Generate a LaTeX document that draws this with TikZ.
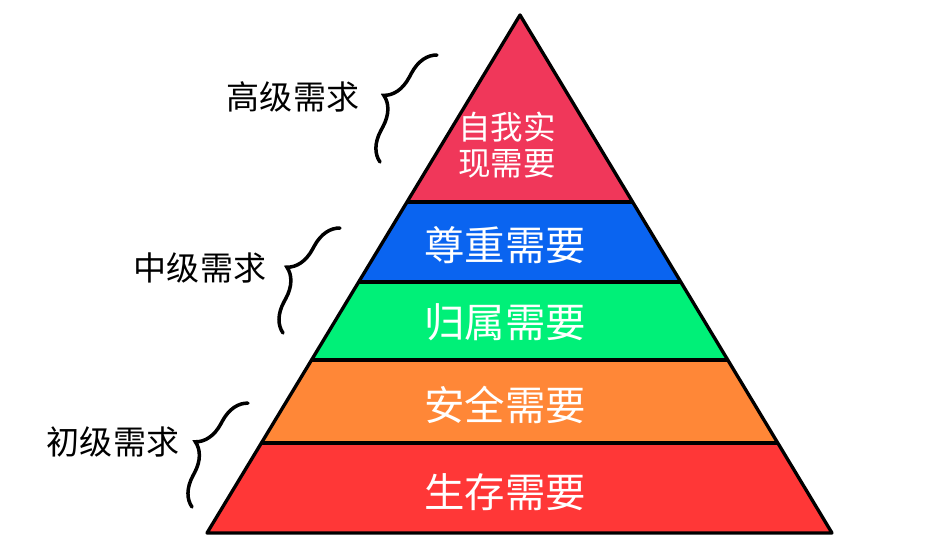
\documentclass[tikz,border=0pt]{standalone}
\usepackage{fontspec}
\newfontfamily\cjk{Noto Sans CJK SC}
\usetikzlibrary{calc,decorations.pathreplacing}

\definecolor{selfpink}{RGB}{240,55,90}
\definecolor{esteemblue}{RGB}{10,100,240}
\definecolor{belonggreen}{RGB}{0,240,120}
\definecolor{safeorange}{RGB}{255,135,55}
\definecolor{lifered}{RGB}{255,55,55}

\begin{document}
\begin{tikzpicture}[x=0.02cm,y=-0.02cm,
    layer/.style={text=white,font=\cjk\fontsize{23}{28}\selectfont},
    group/.style={text=black,font=\cjk\fontsize{18.8}{22}\selectfont},
    curly/.style={decorate,decoration={brace,amplitude=0.56cm},line width=2pt,line cap=round}]
    \useasboundingbox (0,0) rectangle (936,554);

    % Define the corners of the pyramid
    \coordinate (T) at (520,15);
    \coordinate (L) at (207,533);
    \coordinate (R) at (832,533);

    % Points where the layers meet the sides
    \coordinate (L1) at ($(T)!0.361!(L)$);
    \coordinate (R1) at ($(T)!0.361!(R)$);
    \coordinate (L2) at ($(T)!0.5154!(L)$);
    \coordinate (R2) at ($(T)!0.5154!(R)$);
    \coordinate (L3) at ($(T)!0.666!(L)$);
    \coordinate (R3) at ($(T)!0.666!(R)$);
    \coordinate (L4) at ($(T)!0.826!(L)$);
    \coordinate (R4) at ($(T)!0.826!(R)$);

    % Fill the layers
    \fill[selfpink] (T) -- (L1) -- (R1) -- cycle;
    \fill[esteemblue] (L1) -- (L2) -- (R2) -- (R1) -- cycle;
    \fill[belonggreen] (L2) -- (L3) -- (R3) -- (R2) -- cycle;
    \fill[safeorange] (L3) -- (L4) -- (R4) -- (R3) -- cycle;
    \fill[lifered] (L4) -- (L) -- (R) -- (R4) -- cycle;

    % Draw the outline and the dividing lines
    \draw[line width=1.9pt,line join=round] (T) -- (L) -- (R) -- cycle;
    \draw[line width=1.9pt] (L1) -- (R1);
    \draw[line width=1.9pt] (L2) -- (R2);
    \draw[line width=1.9pt] (L3) -- (R3);
    \draw[line width=1.9pt] (L4) -- (R4);

    % Names of the layers
    \node[layer,align=center,font=\cjk\fontsize{18.5}{20.4}\selectfont] (self) at (507,145) {自我实\\现需要};
    \node[layer] (esteem) at (505,245) {尊重需要};
    \node[layer] (belong) at (505,322) {归属需要};
    \node[layer] (safety) at (505,405) {安全需要};
    \node[layer] (life) at (505,492) {生存需要};

    % Braces beside the pyramid
    \coordinate (HB) at (380,162);
    \coordinate (HT) at (437,55);
    \coordinate (MB) at (283,333);
    \coordinate (MT) at (340,228);
    \coordinate (PB) at (192,507);
    \coordinate (PT) at (248,403);
    \draw[curly] (HB) -- (HT);
    \draw[curly] (MB) -- (MT);
    \draw[curly] (PB) -- (PT);

    % Group labels
    \node[group] (high) at (293,97) {高级需求};
    \node[group] (middle) at (200,268) {中级需求};
    \node[group] (primary) at (113,442) {初级需求};

\end{tikzpicture}
\end{document}
